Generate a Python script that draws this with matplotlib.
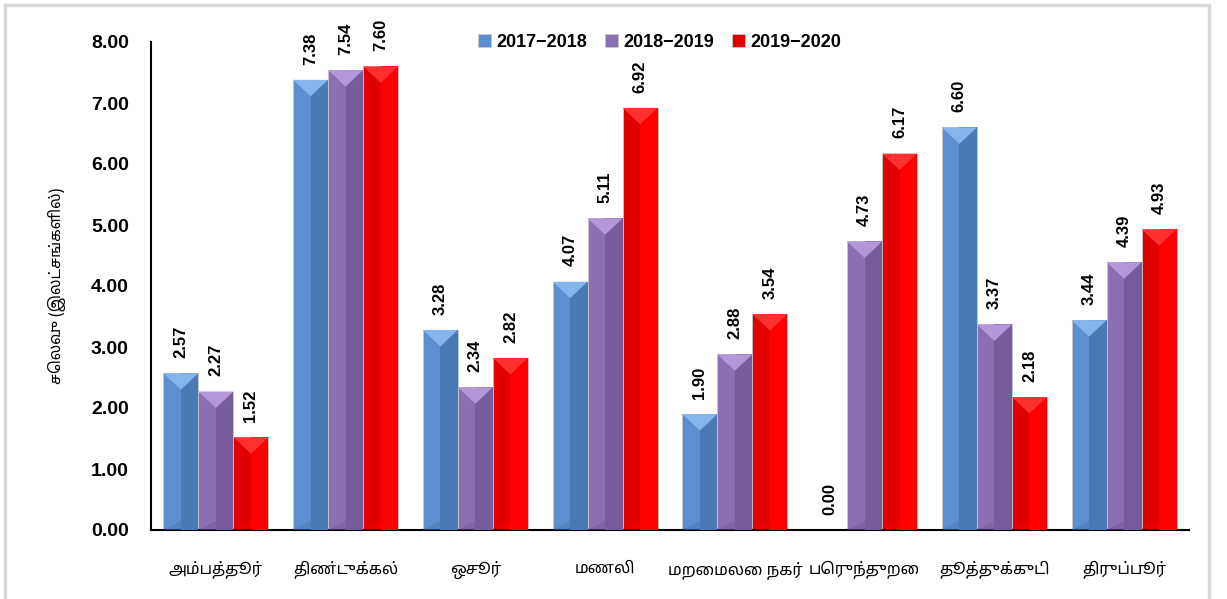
import numpy as np
import matplotlib
matplotlib.use('Agg')
import matplotlib.pyplot as plt
from matplotlib import font_manager
from matplotlib.patches import Rectangle, Polygon

# data
places = ['அம்பத்தூர்', 'திண்டுக்கல்', 'ஒசூர்', 'மணலி', 'மறைமலை நகர்',
          'பெருந்துறை', 'தூத்துக்குடி', 'திருப்பூர்']
years = ['2017\u22122018', '2018\u22122019', '2019\u22122020']
v1718 = [2.57, 7.38, 3.28, 4.07, 1.90, 0.00, 6.60, 3.44]
v1819 = [2.27, 7.54, 2.34, 5.11, 2.88, 4.73, 3.37, 4.39]
v1920 = [1.52, 7.60, 2.82, 6.92, 3.54, 6.17, 2.18, 4.93]
ylabel = 'செலவு (இலட்சங்களில்)'

# tamil font if there is one
names = set(f.name for f in font_manager.fontManager.ttflist)
tam = [n for n in ['Noto Sans Tamil', 'Noto Sans Tamil UI', 'Lohit Tamil']
       if n in names][:1]
plt.rcParams['font.family'] = tam + ['Liberation Sans', 'DejaVu Sans']
num_font = ['Liberation Sans', 'DejaVu Sans']

# colours: base, right half, top cap
cols = [('#5B8FD0', '#4A7AB6', '#86B4EC'),
        ('#8B6EB4', '#765C9C', '#B496DA'),
        ('#E00000', '#FF0000', '#FF3030')]

fig = plt.figure(figsize=(12.27, 5.99), dpi=100)
ax = fig.add_axes([151/1227, 1-530/599, 1038/1227, 488/599])
fig.patches.append(Rectangle((5/1227, -10/599), 1204/1227, 604/599,
                             transform=fig.transFigure, fill=False,
                             edgecolor='#D9D9D9', linewidth=2.5))

x = np.arange(len(places))
w = 0.27
series = [v1718, v1819, v1920]
cap = 0.27
for i, (vals, c) in enumerate(zip(series, cols)):
    pos = x + (i-1)*w
    bars = ax.bar(pos, vals, w, color=c[0], edgecolor='#C8C8C8',
                  linewidth=0.6, label=years[i], zorder=2)
    for b, v in zip(bars, vals):
        if v <= 0:
            continue
        x0, bw = b.get_x(), b.get_width()
        ax.add_patch(Rectangle((x0+bw/2, 0), bw/2, v, color=c[1],
                               linewidth=0, zorder=3))
        d = min(cap, v)
        ax.add_patch(Polygon([(x0, v), (x0+bw, v), (x0+bw/2, v-d)],
                             closed=True, color=c[2], linewidth=0, zorder=4))
        ax.add_patch(Polygon([(x0, 0), (x0+bw, 0), (x0+bw/2, min(0.15, v))],
                             closed=True, color=c[1], alpha=0.5,
                             linewidth=0, zorder=4))
    for p, v in zip(pos, vals):
        ax.annotate('%.2f' % v, (p, v), xytext=(0, 11),
                    textcoords='offset points', rotation=90, ha='center',
                    va='bottom', fontsize=12, fontweight='bold',
                    family=num_font)

ax.set_xlim(-0.5, len(places)-0.5)
ax.set_ylim(0, 8)
ax.set_yticks(np.arange(0, 9, 1))
ax.set_yticklabels(['%.2f' % t for t in np.arange(0, 9, 1)],
                   fontsize=14, fontweight='bold', family=num_font)
ax.set_xticks(x)
ax.set_xticklabels(places, fontsize=11.5)
ax.tick_params(length=0)
ax.tick_params(axis='x', pad=22)
ax.tick_params(axis='y', pad=16)
for s in ['top', 'right']:
    ax.spines[s].set_visible(False)
ax.spines['left'].set_linewidth(1.5)
ax.spines['bottom'].set_linewidth(1.5)
ax.set_ylabel(ylabel, fontsize=11, labelpad=18)

leg = ax.legend(loc='upper center', bbox_to_anchor=(0.49, 1.05), ncol=3,
                frameon=False, handlelength=0.7, handleheight=0.7,
                handletextpad=0.3, columnspacing=1.0,
                prop={'family': num_font, 'weight': 'bold', 'size': 13})

fig.savefig('out.png', dpi=100)
